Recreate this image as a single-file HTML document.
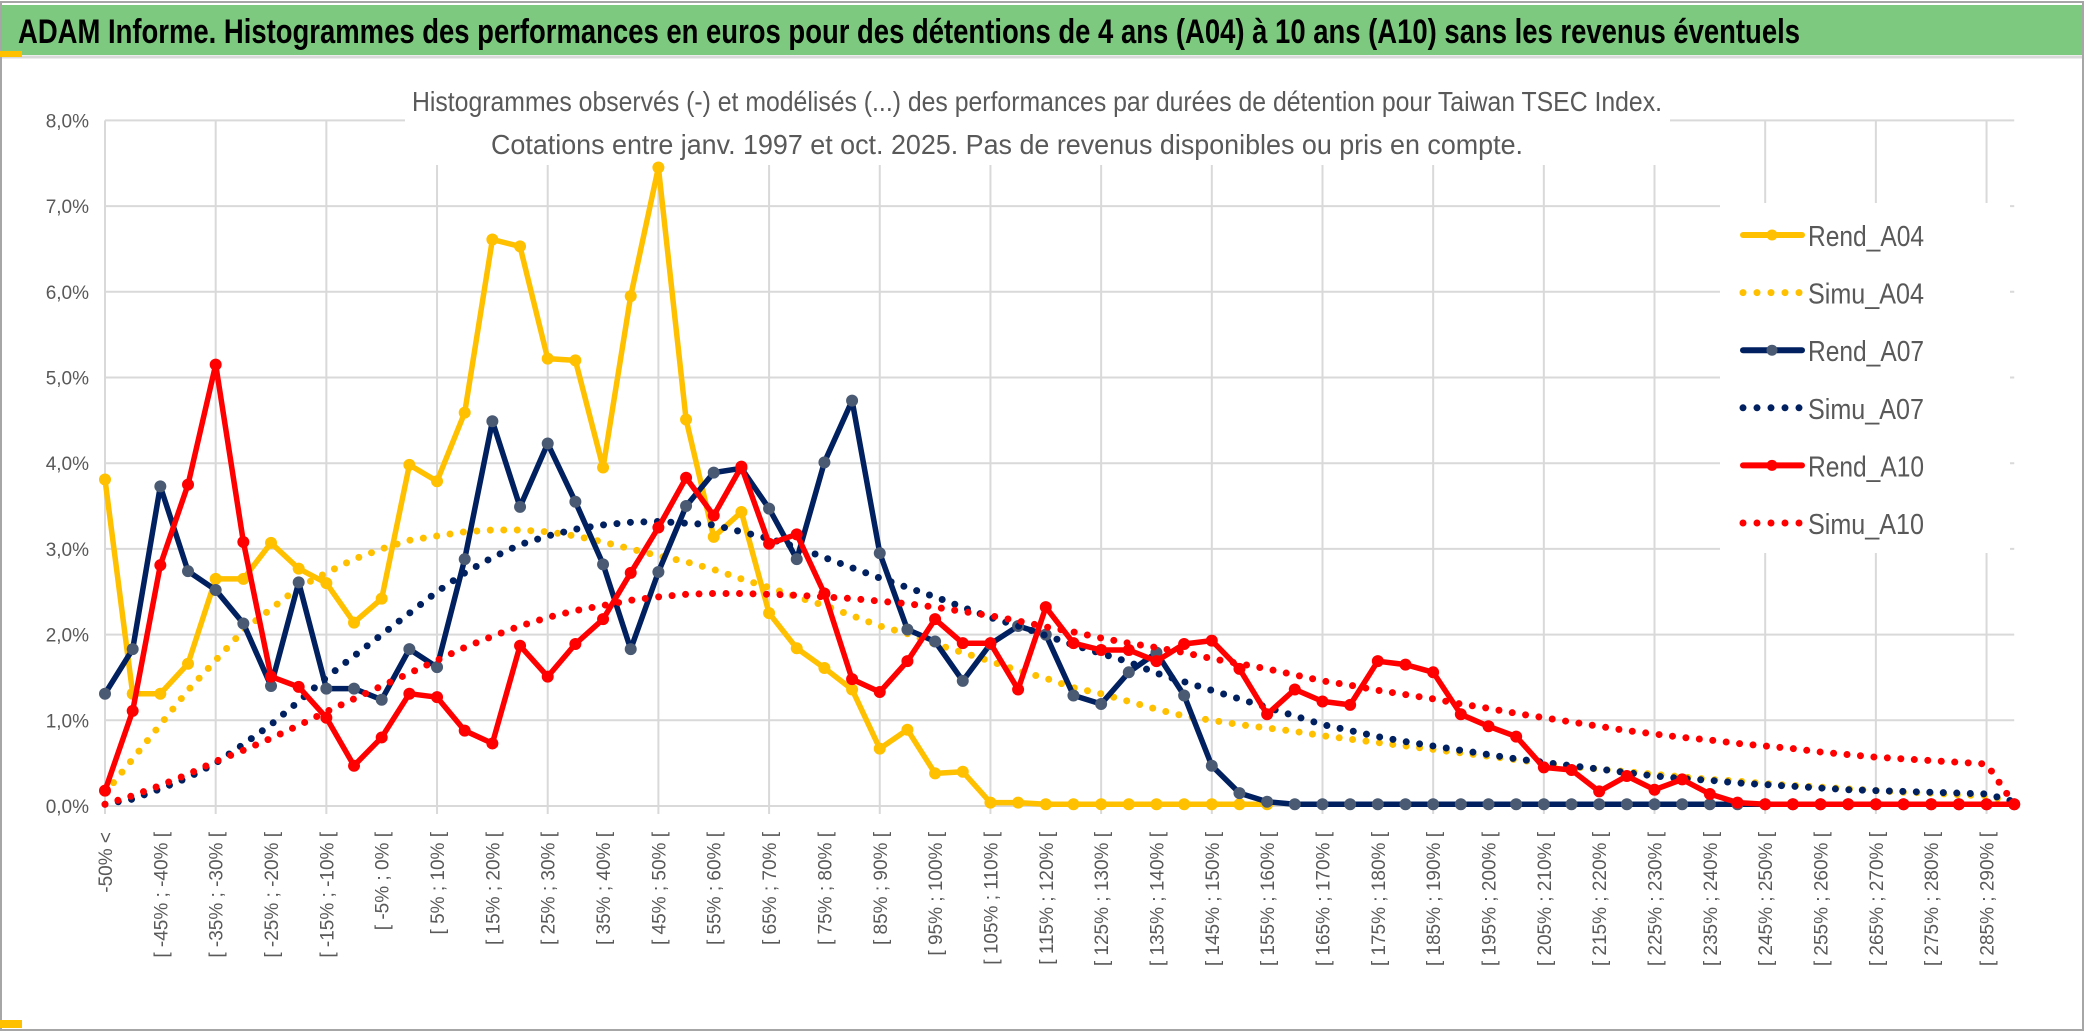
<!DOCTYPE html>
<html><head><meta charset="utf-8"><style>
html,body{margin:0;padding:0;background:#fff;}
svg{display:block;font-family:"Liberation Sans",sans-serif;}
</style></head><body>
<svg id="chart" width="2086" height="1033" viewBox="0 0 2086 1033" xmlns="http://www.w3.org/2000/svg">
<rect x="0" y="0" width="2086" height="1033" fill="#fff"/>
<rect x="1" y="2" width="2082" height="1028" fill="none" stroke="#a6a6a6" stroke-width="2"/>
<rect x="2" y="5" width="2080" height="50" fill="#7dc97f"/>
<line x1="2" y1="57" x2="2082" y2="57" stroke="#d9d9d9" stroke-width="3"/>
<text x="18" y="43" font-size="34" font-weight="bold" fill="#000" textLength="1782" lengthAdjust="spacingAndGlyphs">ADAM Informe. Histogrammes des performances en euros pour des détentions de 4 ans (A04) à 10 ans (A10) sans les revenus éventuels</text>
<rect x="0" y="1020" width="22" height="8" fill="#ffc000"/>
<rect x="0" y="51" width="22" height="6" fill="#ffc000"/>
<g id="grid"></g>
<rect x="405" y="75" width="1265" height="90" fill="#fff"/>
<text x="1037" y="111" font-size="28" fill="#595959" text-anchor="middle" textLength="1250" lengthAdjust="spacingAndGlyphs">Histogrammes observés (-) et modélisés (...) des performances par durées de détention pour Taiwan TSEC Index.</text>
<text x="1007" y="154" font-size="28" fill="#595959" text-anchor="middle" textLength="1032" lengthAdjust="spacingAndGlyphs">Cotations entre janv. 1997 et oct. 2025. Pas de revenus disponibles ou pris en compte.</text>
<g id="yaxis"></g>
<g id="xaxis"></g>
<g id="series"></g>
<g id="legend"></g>
</svg>
<script>
const rendA04 = [3.81,1.31,1.31,1.66,2.65,2.65,3.07,2.77,2.6,2.14,2.42,3.98,3.79,4.59,6.61,6.53,5.22,5.2,3.95,5.95,7.45,4.51,3.14,3.43,2.25,1.84,1.61,1.36,0.67,0.89,0.38,0.4,0.04,0.04,0.02,0.02,0.02,0.02,0.02,0.02,0.02,0.02,0.02];
const simuA04 = [0.15,0.55,0.95,1.35,1.7,2.05,2.3,2.55,2.72,2.88,3.0,3.1,3.15,3.2,3.22,3.22,3.2,3.15,3.08,3.0,2.92,2.85,2.76,2.65,2.55,2.44,2.34,2.22,2.1,2.01,1.89,1.79,1.69,1.58,1.49,1.38,1.31,1.22,1.13,1.05,1.0,0.95,0.91,0.87,0.82,0.78,0.74,0.7,0.66,0.62,0.58,0.54,0.5,0.46,0.43,0.4,0.37,0.34,0.31,0.29,0.26,0.24,0.22,0.2,0.18,0.16,0.15,0.13,0.12,0.04];
const rendA07 = [1.31,1.83,3.73,2.74,2.52,2.13,1.4,2.61,1.37,1.37,1.24,1.83,1.62,2.88,4.49,3.49,4.23,3.55,2.82,1.83,2.73,3.5,3.89,3.94,3.47,2.88,4.01,4.73,2.95,2.06,1.92,1.46,1.89,2.1,2.0,1.29,1.19,1.56,1.79,1.29,0.47,0.15,0.05,0.02,0.02,0.02,0.02,0.02,0.02,0.02,0.02,0.02,0.02,0.02,0.02,0.02,0.02,0.02,0.02,0.02,0.02,0.02,0.02,0.02,0.02,0.02,0.02,0.02,0.02,0.02];
const simuA07 = [0.02,0.08,0.2,0.33,0.5,0.72,0.95,1.22,1.5,1.75,2.0,2.25,2.5,2.72,2.9,3.05,3.15,3.23,3.28,3.31,3.32,3.3,3.28,3.2,3.12,3.02,2.9,2.78,2.66,2.55,2.44,2.32,2.2,2.1,1.99,1.88,1.78,1.68,1.55,1.45,1.35,1.25,1.15,1.05,0.95,0.88,0.81,0.75,0.7,0.65,0.6,0.55,0.51,0.47,0.43,0.39,0.35,0.32,0.3,0.27,0.25,0.23,0.21,0.19,0.18,0.17,0.16,0.15,0.14,0.05];
const rendA10 = [0.18,1.11,2.81,3.75,5.15,3.08,1.51,1.39,1.03,0.47,0.8,1.31,1.27,0.88,0.73,1.87,1.51,1.89,2.18,2.72,3.25,3.83,3.39,3.96,3.06,3.17,2.48,1.48,1.33,1.69,2.18,1.9,1.9,1.36,2.32,1.9,1.82,1.82,1.69,1.89,1.93,1.6,1.07,1.36,1.22,1.18,1.69,1.65,1.56,1.07,0.93,0.81,0.45,0.42,0.17,0.35,0.19,0.31,0.14,0.04,0.02,0.02,0.02,0.02,0.02,0.02,0.02,0.02,0.02,0.02];
const simuA10 = [0.02,0.12,0.24,0.37,0.52,0.65,0.79,0.94,1.1,1.25,1.4,1.55,1.7,1.85,1.98,2.1,2.2,2.28,2.34,2.4,2.44,2.47,2.48,2.48,2.47,2.46,2.44,2.42,2.39,2.36,2.32,2.27,2.22,2.16,2.09,2.03,1.96,1.9,1.85,1.79,1.72,1.66,1.6,1.53,1.46,1.41,1.35,1.3,1.25,1.19,1.14,1.08,1.03,0.98,0.93,0.88,0.84,0.8,0.77,0.73,0.7,0.67,0.63,0.6,0.57,0.55,0.53,0.51,0.49,0.02];
const yTicks = [0,1,2,3,4,5,6,7,8];
const yTickLabels = ["0,0%","1,0%","2,0%","3,0%","4,0%","5,0%","6,0%","7,0%","8,0%"];
const categories = [];
for (let i = 0; i < 70; i++) {
  if (i === 0) categories.push("-50% <");
  else { const a = -50 + 5*(i-1); categories.push("[ " + a + "% ; " + (a+5) + "% ["); }
}
const NS = "http://www.w3.org/2000/svg";
const X0 = 105, DX = 27.67, Y0 = 806, DY = 85.7;
function xs(i){ return X0 + i*DX; }
function ys(v){ return Y0 - v*DY; }
function mk(tag, attrs, parent){ const e = document.createElementNS(NS, tag); for (const k in attrs) e.setAttribute(k, attrs[k]); parent.appendChild(e); return e; }
const grid = document.getElementById('grid');
const xEnd = xs(categories.length-1);
yTicks.forEach(t => {
  const l = mk('line', {x1:X0, x2:xEnd, y1:ys(t), y2:ys(t), stroke:'#d9d9d9', 'stroke-width':2}, grid);
  
  
});
for (let i = 0; i < categories.length; i += 4) {
  const l = mk('line', {x1:xs(i), x2:xs(i), y1:ys(8), y2:ys(0)+8, stroke:'#d9d9d9', 'stroke-width':2}, grid);
  
  
}
const yaxis = document.getElementById('yaxis');
yTicks.forEach((t, k) => {
  const tx = mk('text', {x:89, y:ys(t)+7, 'font-size':19, fill:'#595959', 'text-anchor':'end'}, yaxis);
  tx.textContent = yTickLabels[k];
  
  
});
const xaxis = document.getElementById('xaxis');
for (let i = 0; i < categories.length; i += 2) {
  const tx = mk('text', {x:0, y:0, 'font-size':19, fill:'#595959', 'text-anchor':'end', transform:'translate(' + (xs(i)+7) + ',832) rotate(-90)'}, xaxis);
  tx.textContent = categories[i];
  
  
}
const series = document.getElementById('series');
function pts(arr){ return arr.map((v,i) => xs(i).toFixed(1) + ',' + ys(v).toFixed(1)).join(' '); }
function rend(arr, color, mcolor, name){
  const g = mk('g', {}, series);
  
  
  mk('polyline', {points:pts(arr), fill:'none', stroke:color, 'stroke-width':5.5, 'stroke-linejoin':'round'}, g);
  arr.forEach((v,i) => {
    const c = mk('circle', {cx:xs(i), cy:ys(v), r:5.5, fill:mcolor, stroke:mcolor}, g);
    
    
  });
}
function simu(arr, color, name){
  const p = mk('polyline', {points:pts(arr), fill:'none', stroke:color, 'stroke-width':7, 'stroke-linecap':'round', 'stroke-dasharray':'0 13.5'}, series);
  
  
}
rend(rendA04, '#ffc000', '#ffc000', 'rend-a04-line');
simu(simuA04, '#ffc000', 'simu-a04-line');
rend(rendA07, '#002060', '#4a5a73', 'rend-a07-line');
simu(simuA07, '#002060', 'simu-a07-line');
rend(rendA10, '#ff0000', '#ff0000', 'rend-a10-line');
simu(simuA10, '#ff0000', 'simu-a10-line');
const legend = document.getElementById('legend');
mk('rect', {x:1720, y:203, width:290, height:350, fill:'#fff'}, legend);
const legendNames = ['Rend_A04','Simu_A04','Rend_A07','Simu_A07','Rend_A10','Simu_A10'];
const legendColors = ['#ffc000','#ffc000','#002060','#002060','#ff0000','#ff0000'];
const legendMarkers = ['#ffc000',null,'#4a5a73',null,'#ff0000',null];
legendNames.forEach((n,k) => {
  const y = 235 + k*57.6;
  const g = mk('g', {}, legend);
  
  
  if (legendMarkers[k]) {
    mk('line', {x1:1743, x2:1802, y1:y, y2:y, stroke:legendColors[k], 'stroke-width':6, 'stroke-linecap':'round'}, g);
    mk('circle', {cx:1772, cy:y, r:5.5, fill:legendMarkers[k]}, g);
  } else {
    mk('line', {x1:1743, x2:1800, y1:y, y2:y, stroke:legendColors[k], 'stroke-width':7, 'stroke-linecap':'round', 'stroke-dasharray':'0 14'}, g);
  }
  const t = mk('text', {x:1808, y:y+11, 'font-size':29, fill:'#595959', textLength:116, lengthAdjust:'spacingAndGlyphs'}, g);
  t.textContent = n;
});
</script>
</body></html>
